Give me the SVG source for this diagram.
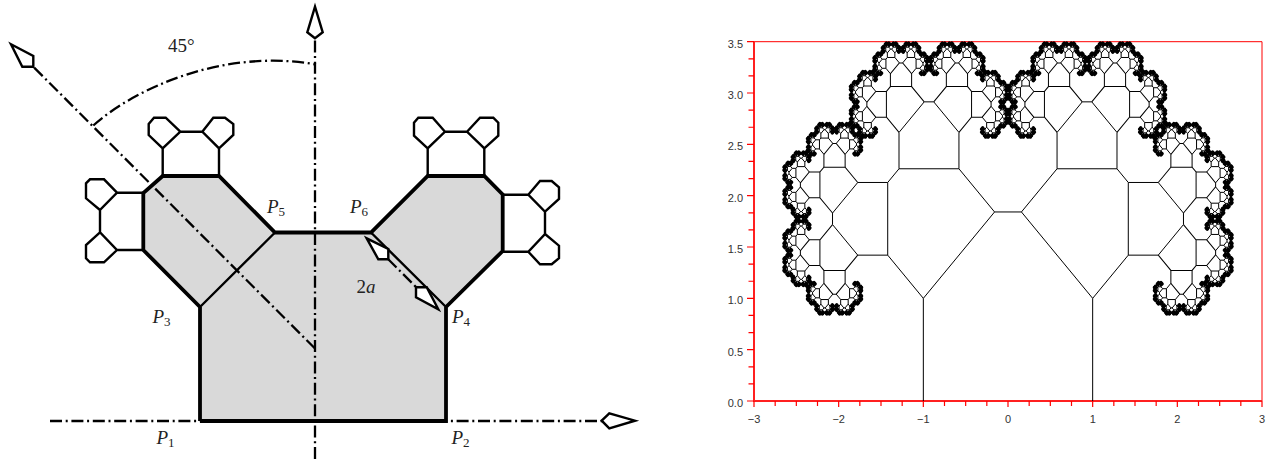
<svg xmlns="http://www.w3.org/2000/svg" width="1279" height="459" viewBox="0 0 1279 459">
<style>
.axis{fill:none;stroke:#000;stroke-width:2.3;stroke-dasharray:12 3.7 2 3.7}
.head{fill:#fff;stroke:#000;stroke-width:2.4;stroke-linejoin:miter}
.thick{fill:none;stroke:#000;stroke-width:3.8;stroke-linejoin:miter}
.mid{fill:none;stroke:#000;stroke-width:2.4;stroke-linejoin:miter}
.lab{font-family:"Liberation Serif",serif;font-size:19px;fill:#222}
.lab .i{font-style:italic}
.lab .s{font-size:13px}
.tree{fill:none;stroke:#000;stroke-width:1;vector-effect:non-scaling-stroke}
.fine{fill:none;stroke:#000;stroke-width:2.6;stroke-linejoin:round;stroke-linecap:round;vector-effect:non-scaling-stroke}
.tl{font-family:"Liberation Sans",Arial,sans-serif;font-size:11px;fill:#333}
</style>
<defs>
<polyline id="b" class="tree" points="-1,0 -1,1 -.1586,1.8414 .1586,1.8414 1,1 1,0"/>
<polyline id="f" class="fine" points="-1,0 -1,1 -.1586,1.8414 .1586,1.8414 1,1 1,0"/>
<g id="t0"><use href="#f"/></g>
<g id="t1"><use href="#f"/><use href="#t0" transform="matrix(.4207 .4207 -.4207 .4207 -.5793 1.4207)"/><use href="#t0" transform="matrix(.4207 -.4207 .4207 .4207 .5793 1.4207)"/></g>
<g id="t2"><use href="#b"/><use href="#t1" transform="matrix(.4207 .4207 -.4207 .4207 -.5793 1.4207)"/><use href="#t1" transform="matrix(.4207 -.4207 .4207 .4207 .5793 1.4207)"/></g>
<g id="t3"><use href="#b"/><use href="#t2" transform="matrix(.4207 .4207 -.4207 .4207 -.5793 1.4207)"/><use href="#t2" transform="matrix(.4207 -.4207 .4207 .4207 .5793 1.4207)"/></g>
<g id="t4"><use href="#b"/><use href="#t3" transform="matrix(.4207 .4207 -.4207 .4207 -.5793 1.4207)"/><use href="#t3" transform="matrix(.4207 -.4207 .4207 .4207 .5793 1.4207)"/></g>
<g id="t5"><use href="#b"/><use href="#t4" transform="matrix(.4207 .4207 -.4207 .4207 -.5793 1.4207)"/><use href="#t4" transform="matrix(.4207 -.4207 .4207 .4207 .5793 1.4207)"/></g>
<g id="t6"><use href="#b"/><use href="#t5" transform="matrix(.4207 .4207 -.4207 .4207 -.5793 1.4207)"/><use href="#t5" transform="matrix(.4207 -.4207 .4207 .4207 .5793 1.4207)"/></g>
<g id="t7"><use href="#b"/><use href="#t6" transform="matrix(.4207 .4207 -.4207 .4207 -.5793 1.4207)"/><use href="#t6" transform="matrix(.4207 -.4207 .4207 .4207 .5793 1.4207)"/></g>
<g id="t8"><use href="#b"/><use href="#t7" transform="matrix(.4207 .4207 -.4207 .4207 -.5793 1.4207)"/><use href="#t7" transform="matrix(.4207 -.4207 .4207 .4207 .5793 1.4207)"/></g>
<g id="t9"><use href="#b"/><use href="#t8" transform="matrix(.4207 .4207 -.4207 .4207 -.5793 1.4207)"/><use href="#t8" transform="matrix(.4207 -.4207 .4207 .4207 .5793 1.4207)"/></g>
<g id="t10"><use href="#b"/><use href="#t9" transform="matrix(.4207 .4207 -.4207 .4207 -.5793 1.4207)"/><use href="#t9" transform="matrix(.4207 -.4207 .4207 .4207 .5793 1.4207)"/></g>
</defs>

<g id="construction">
<polygon id="body" fill="#d9d9d9" points="200,421 446,421 446,307 502.7,251 502.7,194.5 484.3,176 427.7,176 371,232.5 275,232.5 218.3,176 162.7,176 143.3,194.5 143.3,250 200,307"/>
<g id="axes">
<path class="axis" d="M50 421H602"/>
<path class="axis" d="M315 459V38"/>
<path class="axis" d="M315 348.5L33.3 66.7"/>
<path class="axis" d="M93.3 125.5C135 88 225 48 316 64.5"/>
<polygon class="head" points="601.7,420.7 609.3,413.3 635,420.7 609.3,428.3"/>
<polygon class="head" points="315,38.3 307.3,32.3 315,6.7 322.7,32.3"/>
<polygon class="head" points="33.3,66.7 33.3,56 11,44.3 22.3,66.7"/>
</g>
<g id="outline">
<path class="thick" d="M200 421H446V307M200 421V307M143.3 250V193L162.7 176H219L275 232.5H371L427.7 176H484.3L502.7 194.5V251L446 307M143.3 250L200 307"/>
<path class="mid" d="M200 307L275 232.5M371 232.5L446 307"/>
</g>
<g id="dim2a">
<path class="axis" d="M388 259L416 287"/>
<polygon class="head" points="366.7,238.3 378.3,259.3 388.3,259.3 388.3,249"/>
<polygon class="head" points="416,287.3 416,297.3 438.3,309.3 426.7,287.3"/>
</g>
<g id="branch-top-left">
<path class="mid" d="M162.7 176V148.3L180.3 131.7H202.3L219 148.3V176M180.3 131.7L165.7 117.7H154L148.7 124V135L162.7 148.3M202.3 131.7L213.3 117.7H225L233.3 124V135L219 148.3"/>
</g>
<g id="branch-top-right">
<path class="mid" d="M427.7 176V148.3L445 131.7H467L484.3 148.3V176M445 131.7L432.7 117.7H418.3L414 122.7V135.7L427.7 148.3M467 131.7L480 117.7H493.3L498.3 122.7V135.7L484.3 148.3"/>
</g>
<g id="branch-right">
<path class="mid" d="M502.7 194.7H528.3L545 211.7V234L528.3 251.7H502.7M528.3 194.7L540 181H551.7L559 187.3V199L545 211.7M528.3 251.7L540 264.3H551.7L559 258.3V245.7L545 234"/>
</g>
<g id="branch-left">
<path class="mid" d="M143.3 192.7H117L100 210V232.3L117 250H143.3M117 192.7L104 179.3H90L86 183.3V198.3L100 210M117 250L104 262.3H90L86 258.3V245L100 232.3"/>
</g>
<g id="labels">
<text class="lab" x="168" y="51.7">45°</text>
<text class="lab" x="267" y="213"><tspan class="i">P</tspan><tspan class="s" dy="3">5</tspan></text>
<text class="lab" x="350" y="213"><tspan class="i">P</tspan><tspan class="s" dy="3">6</tspan></text>
<text class="lab" x="152.5" y="323"><tspan class="i">P</tspan><tspan class="s" dy="3">3</tspan></text>
<text class="lab" x="452" y="323"><tspan class="i">P</tspan><tspan class="s" dy="3">4</tspan></text>
<text class="lab" x="156.5" y="444"><tspan class="i">P</tspan><tspan class="s" dy="3">1</tspan></text>
<text class="lab" x="451.5" y="444"><tspan class="i">P</tspan><tspan class="s" dy="3">2</tspan></text>
<text class="lab" x="356.5" y="292.7">2<tspan class="i">a</tspan></text>
</g>
</g>

<g id="plot">
<g id="frame" fill="none" stroke="#ff0000">
<path stroke-width="1" d="M754 41.7H1262V401"/>
<path stroke-width="2" stroke="#ff2020" d="M754 41.7V401H1262"/>
<path stroke-width="1.2" d="M754 401v6M838.67 401v6M923.33 401v6M1008 401v6M1092.67 401v6M1177.33 401v6M1262 401v6M775.17 401v5M796.33 401v5M817.5 401v5M859.83 401v5M881 401v5M902.17 401v5M944.5 401v5M965.67 401v5M986.83 401v5M1029.17 401v5M1050.33 401v5M1071.5 401v5M1113.83 401v5M1135 401v5M1156.17 401v5M1198.5 401v5M1219.67 401v5M1240.83 401v5"/>
<path stroke-width="1.2" d="M747 401h7M747 349.67h7M747 298.34h7M747 247.01h7M747 195.68h7M747 144.35h7M747 93.02h7M747 41.69h7M748.5 383.89h5.5M748.5 366.78h5.5M748.5 332.56h5.5M748.5 315.45h5.5M748.5 281.23h5.5M748.5 264.12h5.5M748.5 229.9h5.5M748.5 212.79h5.5M748.5 178.57h5.5M748.5 161.46h5.5M748.5 127.24h5.5M748.5 110.13h5.5M748.5 75.91h5.5M748.5 58.8h5.5"/>
</g>
<g id="ticklabels" class="tl">
<g text-anchor="end">
<text x="743" y="407">0.0</text><text x="743" y="355.7">0.5</text><text x="743" y="304.3">1.0</text><text x="743" y="253">1.5</text><text x="743" y="201.7">2.0</text><text x="743" y="150.4">2.5</text><text x="743" y="99">3.0</text><text x="743" y="47.7">3.5</text>
</g>
<g text-anchor="middle">
<text x="754" y="422.7">−3</text><text x="838.7" y="422.7">−2</text><text x="923.3" y="422.7">−1</text><text x="1008" y="422.7">0</text><text x="1092.7" y="422.7">1</text><text x="1177.3" y="422.7">2</text><text x="1262" y="422.7">3</text>
</g>
</g>
<g id="tree" transform="matrix(84.67 0 0 -102.66 1008 401)"><use href="#t10"/></g>
</g>
</svg>
